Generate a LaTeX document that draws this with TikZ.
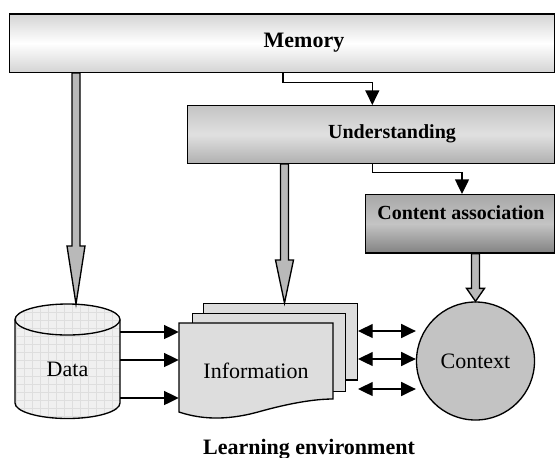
\documentclass[tikz,border=0pt]{standalone}
\usepackage{fontspec}
\setmainfont{Liberation Serif}
\usetikzlibrary{arrows.meta,calc}

\definecolor{memgray}{RGB}{212,212,212}
\definecolor{undtop}{RGB}{196,196,196}
\definecolor{undmid}{RGB}{224,224,224}
\definecolor{undbot}{RGB}{176,176,176}
\definecolor{catop}{RGB}{168,168,168}
\definecolor{camid}{RGB}{196,196,196}
\definecolor{cabot}{RGB}{130,130,130}
\definecolor{pagegray}{RGB}{221,221,221}
\definecolor{ctxgray}{RGB}{195,195,195}
\definecolor{dbgray}{RGB}{240,240,240}
\definecolor{gridgray}{RGB}{222,222,222}
\definecolor{shaftgray}{RGB}{185,185,185}

\tikzset{
  link/.style={line width=1pt,-{Triangle[length=11pt,width=10.5pt]}},
  dlink/.style={line width=1pt,{Triangle[length=11pt,width=10.5pt]}-{Triangle[length=11pt,width=10.5pt]}},
  hollow/.style={line width=1pt,fill=shaftgray},
  membox/.style={draw,line width=1pt,top color=memgray,bottom color=memgray,middle color=white,anchor=north west,inner sep=0pt},
  undbox/.style={draw,line width=1pt,top color=undtop,bottom color=undbot,middle color=undmid,anchor=north west,inner sep=0pt},
  cabox/.style={draw,line width=1pt,top color=catop,bottom color=cabot,middle color=camid,anchor=north west,inner sep=0pt},
  page/.style={draw,line width=1pt,fill=pagegray,inner sep=0pt,anchor=north west},
  boxlbl/.style={font=\fontsize{15}{18}\selectfont\bfseries},
  txt/.style={font=\fontsize{16.5}{20}\selectfont},
}

% hollow arrow: from #1 down to tip #2, head length #3
\newcommand{\fatarrow}[3]{%
  \draw[hollow] ($(#1)+(-4,0)$) -- ($(#2)+(-4,-#3)$) -- ($(#2)+(-9,-#3)$) -- (#2)
    -- ($(#2)+(9,-#3)$) -- ($(#2)+(4,-#3)$) -- ($(#1)+(4,0)$) -- cycle;}

\begin{document}
\begin{tikzpicture}[x=0.75pt,y=0.75pt,yscale=-1,xscale=1]
	\useasboundingbox (0,0) rectangle (555,457);
	% boxes
	\node[membox, minimum width={545*0.75pt}, minimum height={58.4*0.75pt}] (mem) at (9,13.3) {};
	\node[undbox, minimum width={367*0.75pt}, minimum height={57.7*0.75pt}] (und) at (187,105) {};
	\node[cabox, minimum width={189*0.75pt}, minimum height={58.3*0.75pt}] (ca) at (365,194) {};
	\node[boxlbl, font=\fontsize{16.5}{20}\selectfont\bfseries] (memlbl) at (304,43) {Memory};
	\node[boxlbl] (undlbl) at (392,134) {Understanding};
	\node[boxlbl] (calbl) at (461,213) {Content association};
	% database
	\draw[line width=1pt, fill=dbgray, path picture={\draw[gridgray,line width=0.4pt,step=8] (path picture bounding box.south west) grid (path picture bounding box.north east);}]
	  (15,319.5) -- (15,403) arc[start angle=180,end angle=0,x radius=52.5,y radius=15.5] -- (120,319.5) arc[start angle=0,end angle=-180,x radius=52.5,y radius=15.5] -- cycle;
	\draw[line width=1pt] (15,319.5) arc[start angle=180,end angle=0,x radius=52.5,y radius=15.5];
	\node[txt, minimum width={105*0.75pt}, inner sep=0pt] (dat) at (67.5,369) {Data};
	% documents
	\node[page, minimum width={153.7*0.75pt}, minimum height={76.6*0.75pt}] (bk) at (203,302.7) {};
	\node[page, minimum width={153*0.75pt}, minimum height={77.7*0.75pt}] (md) at (192,313) {};
	\draw[line width=1pt, fill=pagegray] (179,323) -- (333,323) -- (333,399) .. controls (315,399) and (290,403) .. (258,412) .. controls (225,421) and (200,419) .. (179,412) -- cycle;
	\node[txt, minimum width={154*0.75pt}, inner sep=0pt] (inf) at (256,371) {Information};
	% context
	\node[txt, circle, draw, line width=1pt, fill=ctxgray, minimum size={118*0.75pt}, inner sep=0pt] (ctx) at (475.5,361) {Context};
	% elbow links
	\coordinate (k1) at (283,82.3);
	\coordinate (k2) at (372.3,172.5);
	\coordinate (k3) at (462,194);
	\draw[link] (k1 |- mem.south) -- (k1) -| (k2 |- und.north);
	\draw[link] (k2 |- und.south) -- (k2) -| (k3 |- ca.north);
	% hollow arrows
	\coordinate (dtip) at (76,304);
	\coordinate (utip) at (284.5,303);
	\fatarrow{dtip |- mem.south}{dtip}{58}
	\fatarrow{utip |- und.south}{utip}{43}
	\fatarrow{ctx.north |- ca.south}{ctx.north}{13}
	% data to information, information to context
	\foreach \y in {332,360,398}
	  \draw[link] (dat.east |- 0,\y) -- (inf.west |- 0,\y);
	\foreach \y in {331,359,389}
	  \draw[dlink] (bk.east |- 0,\y) -- (ctx.west |- 0,\y);
	\node[txt, font=\fontsize{16.5}{20}\selectfont\bfseries, anchor=base] (env) at (309,454) {Learning environment};
\end{tikzpicture}
\end{document}
